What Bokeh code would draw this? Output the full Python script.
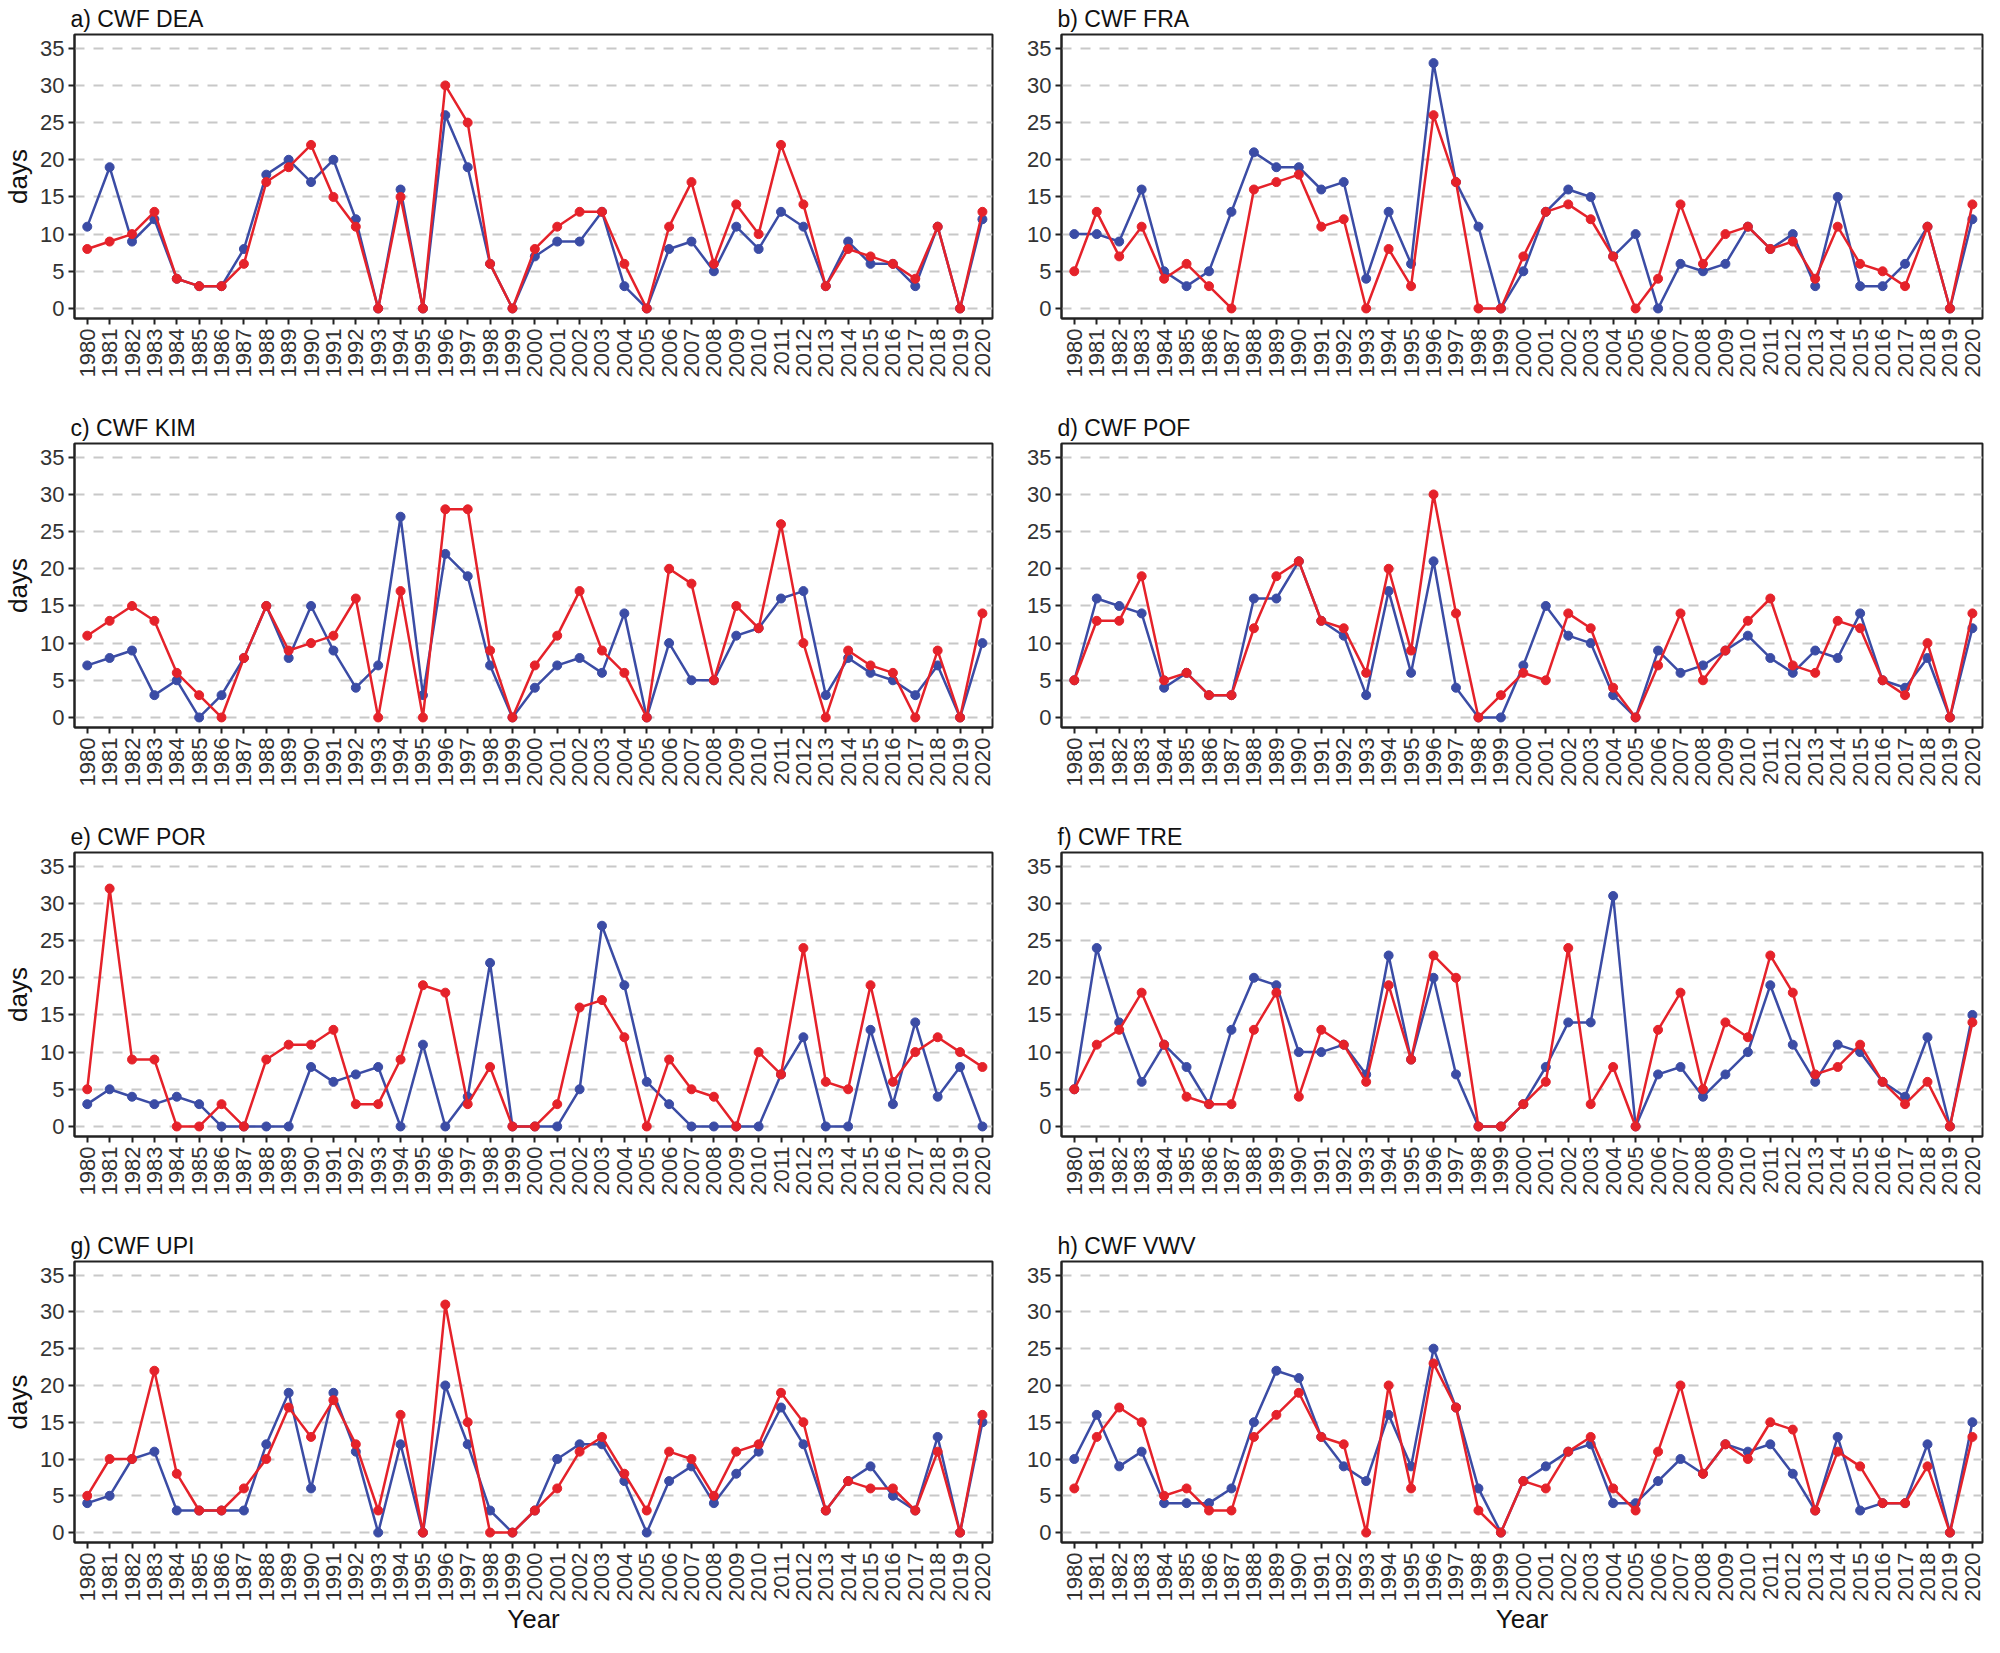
import math
from bokeh.plotting import figure
from bokeh.layouts import gridplot
from bokeh.models import FixedTicker, Range1d, ColumnDataSource
from bokeh.embed import file_html
from bokeh.resources import INLINE

years = list(range(1980, 2021))
y_ticks = [0, 5, 10, 15, 20, 25, 30, 35]

titles = ["a) CWF DEA", "b) CWF FRA", "c) CWF KIM", "d) CWF POF",
          "e) CWF POR", "f) CWF TRE", "g) CWF UPI", "h) CWF VWV"]

dea_blue = [11,19,9,12,4,3,3,8,18,20,17,20,12,0,16,0,26,19,6,0,7,9,9,13,3,0,8,9,5,11,8,13,11,3,9,6,6,3,11,0,12]
dea_red = [8,9,10,13,4,3,3,6,17,19,22,15,11,0,15,0,30,25,6,0,8,11,13,13,6,0,11,17,6,14,10,22,14,3,8,7,6,4,11,0,13]

fra_blue = [10,10,9,16,5,3,5,13,21,19,19,16,17,4,13,6,33,17,11,0,5,13,16,15,7,10,0,6,5,6,11,8,10,3,15,3,3,6,11,0,12]
fra_red = [5,13,7,11,4,6,3,0,16,17,18,11,12,0,8,3,26,17,0,0,7,13,14,12,7,0,4,14,6,10,11,8,9,4,11,6,5,3,11,0,14]

kim_blue = [7,8,9,3,5,0,3,8,15,8,15,9,4,7,27,3,22,19,7,0,4,7,8,6,14,0,10,5,5,11,12,16,17,3,8,6,5,3,7,0,10]
kim_red = [11,13,15,13,6,3,0,8,15,9,10,11,16,0,17,0,28,28,9,0,7,11,17,9,6,0,20,18,5,15,12,26,10,0,9,7,6,0,9,0,14]

pof_blue = [5,16,15,14,4,6,3,3,16,16,21,13,11,3,17,6,21,4,0,0,7,15,11,10,3,0,9,6,7,9,11,8,6,9,8,14,5,4,8,0,12]
pof_red = [5,13,13,19,5,6,3,3,12,19,21,13,12,6,20,9,30,14,0,3,6,5,14,12,4,0,7,14,5,9,13,16,7,6,13,12,5,3,10,0,14]

por_blue = [3,5,4,3,4,3,0,0,0,0,8,6,7,8,0,11,0,4,22,0,0,0,5,27,19,6,3,0,0,0,0,7,12,0,0,13,3,14,4,8,0]
por_red = [5,32,9,9,0,0,3,0,9,11,11,13,3,3,9,19,18,3,8,0,0,3,16,17,12,0,9,5,4,0,10,7,24,6,5,19,6,10,12,10,8]

tre_blue = [5,24,14,6,11,8,3,13,20,19,10,10,11,7,23,9,20,7,0,0,3,8,14,14,31,0,7,8,4,7,10,19,11,6,11,10,6,4,12,0,15]
tre_red = [5,11,13,18,11,4,3,3,13,18,4,13,11,6,19,9,23,20,0,0,3,6,24,3,8,0,13,18,5,14,12,23,18,7,8,11,6,3,6,0,14]

upi_blue = [4,5,10,11,3,3,3,3,12,19,6,19,11,0,12,0,20,12,3,0,3,10,12,12,7,0,7,9,4,8,11,17,12,3,7,9,5,3,13,0,15]
upi_red = [5,10,10,22,8,3,3,6,10,17,13,18,12,3,16,0,31,15,0,0,3,6,11,13,8,3,11,10,5,11,12,19,15,3,7,6,6,3,11,0,16]

vwv_blue = [10,16,9,11,4,4,4,6,15,22,21,13,9,7,16,9,25,17,6,0,7,9,11,12,4,4,7,10,8,12,11,12,8,3,13,3,4,4,12,0,15]
vwv_red = [6,13,17,15,5,6,3,3,13,16,19,13,12,0,20,6,23,17,3,0,7,6,11,13,6,3,11,20,8,12,10,15,14,3,11,9,4,4,9,0,13]

series = [(dea_blue, dea_red), (fra_blue, fra_red), (kim_blue, kim_red), (pof_blue, pof_red),
          (por_blue, por_red), (tre_blue, tre_red), (upi_blue, upi_red), (vwv_blue, vwv_red)]

BLUE = "#3B4CA5"
RED = "#E5222A"
FONT = "Liberation Sans Narrow, Liberation Sans, sans-serif"


def make_panel(idx):
    col = idx % 2
    row = idx // 2
    last = row == 3
    h = 410 if last else 409
    w = 1000 if col == 0 else 984
    p = figure(width=w, height=h, output_backend="svg", toolbar_location=None,
               x_range=Range1d(1979.43, 2020.45), y_range=Range1d(-1.35, 36.85),
               min_border_left=62 if col == 0 else 61,
               min_border_right=8 if col == 0 else 2,
               min_border_top=30, min_border_bottom=h - 30 - 288)
    p.title.text = titles[idx]
    p.title.text_font = FONT
    p.title.text_font_size = "23px"
    p.title.text_font_style = "normal"
    p.title.text_color = "#111111"
    p.title.offset = -4
    p.title.standoff = 6

    p.outline_line_color = "#222222"
    p.outline_line_width = 2
    p.background_fill_color = "white"
    p.border_fill_color = "white"

    p.xgrid.grid_line_color = None
    p.ygrid.grid_line_color = "#c8c8c8"
    p.ygrid.grid_line_width = 2
    p.ygrid.grid_line_dash = "10 9"
    p.ygrid.ticker = FixedTicker(ticks=y_ticks)

    p.yaxis.ticker = FixedTicker(ticks=y_ticks)
    p.xaxis.ticker = FixedTicker(ticks=years)
    p.xaxis.major_label_orientation = math.pi / 2
    for ax in (p.xaxis, p.yaxis):
        ax.axis_line_color = "#222222"
        ax.axis_line_width = 2
        ax.major_tick_line_color = "#222222"
        ax.major_tick_line_width = 2
        ax.major_tick_out = 6
        ax.major_tick_in = 0
        ax.minor_tick_line_color = None
        ax.major_label_text_font = FONT
        ax.major_label_text_font_size = "22px"
        ax.major_label_text_color = "#333333"
        ax.axis_label_text_font = FONT
        ax.axis_label_text_font_size = "26px"
        ax.axis_label_text_font_style = "normal"
        ax.axis_label_text_color = "#111111"
    p.yaxis.major_label_standoff = 4
    p.xaxis.major_label_standoff = 4
    if col == 0:
        p.yaxis.axis_label = "days"
        p.yaxis.axis_label_standoff = 4
    if last:
        p.xaxis.axis_label = "Year"
        p.xaxis.axis_label_standoff = 0

    b, r = series[idx]
    src = ColumnDataSource(dict(year=years, blue=b, red=r))
    p.line("year", "blue", source=src, line_color=BLUE, line_width=2.5)
    p.scatter("year", "blue", source=src, size=9, fill_color=BLUE, line_color=BLUE)
    p.line("year", "red", source=src, line_color=RED, line_width=2.5)
    p.scatter("year", "red", source=src, size=9, fill_color=RED, line_color=RED)
    return p


panels = [make_panel(i) for i in range(8)]
grid = gridplot([[panels[0], panels[1]], [panels[2], panels[3]],
                 [panels[4], panels[5]], [panels[6], panels[7]]],
                toolbar_location=None)

open("out.html", "w").write(file_html(grid, INLINE))
